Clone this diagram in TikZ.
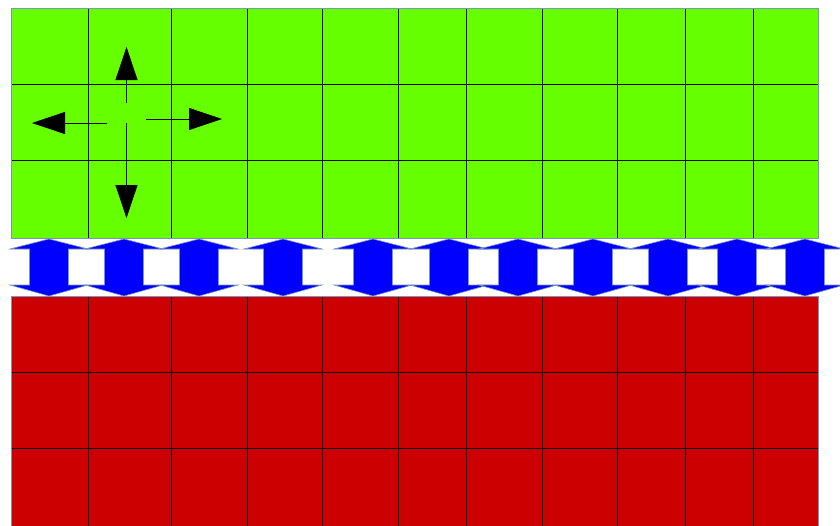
\documentclass[tikz,border=0pt]{standalone}
\usetikzlibrary{arrows.meta}
\definecolor{fieldgreen}{RGB}{102,255,0}
\definecolor{fieldred}{RGB}{204,0,0}
\definecolor{linkblue}{RGB}{0,0,255}
\definecolor{edgegray}{RGB}{120,150,190}

\begin{document}
\begin{tikzpicture}[x=1pt,y=-1pt,
   grid/.style={draw=black,line width=0.7pt},
   plate/.style={draw=edgegray,line width=0.9pt},
   link/.style={fill=linkblue,draw=edgegray,line width=0.6pt,line join=miter},
   move/.style={-{Triangle[length=33pt,width=22pt]},line width=0.8pt}]
  \useasboundingbox (0,0) rectangle (840,525);
  \begin{scope}
  \clip (0,0) rectangle (840,525);
  % upper field
  \fill[fieldgreen] (11,8) rectangle (818,238);
  \foreach \x in {88,171,247,322,398,466,542,617,685,753}
    \draw[grid] (\x,8) -- (\x,238);
  \foreach \y in {84,160}
    \draw[grid] (11,\y) -- (818,\y);
  \draw[plate] (11,8) rectangle (818,238);
  % lower field
  \fill[fieldred] (11,296) rectangle (818,540);
  \foreach \x in {88,171,247,322,398,466,542,617,685,753}
    \draw[grid] (\x,296) -- (\x,540);
  \foreach \y in {372,448}
    \draw[grid] (11,\y) -- (818,\y);
  \draw[plate] (11,296) rectangle (818,540);
  % links between the fields
  \foreach \c in {49,124,199,283,373,449,518,593,668,737,805}
    \draw[link] (\c,239) -- (\c+39,249) -- (\c+19.5,249) -- (\c+19.5,285)
      -- (\c+39,285) -- (\c,296) -- (\c-39,285) -- (\c-19.5,285)
      -- (\c-19.5,249) -- (\c-39,249) -- cycle;
  % moves from the centre cell
  \coordinate (upS) at (126.5,103);
  \coordinate (upT) at (126.5,47);
  \coordinate (dnS) at (126.5,123);
  \coordinate (dnT) at (126.5,218);
  \coordinate (lfS) at (107,123);
  \coordinate (lfT) at (32,123);
  \coordinate (rtS) at (146,119);
  \coordinate (rtT) at (222,119);
  \draw[move] (upS) -- (upT);
  \draw[move] (dnS) -- (dnT);
  \draw[move] (lfS) -- (lfT);
  \draw[move] (rtS) -- (rtT);
  \end{scope}
\end{tikzpicture}
\end{document}
